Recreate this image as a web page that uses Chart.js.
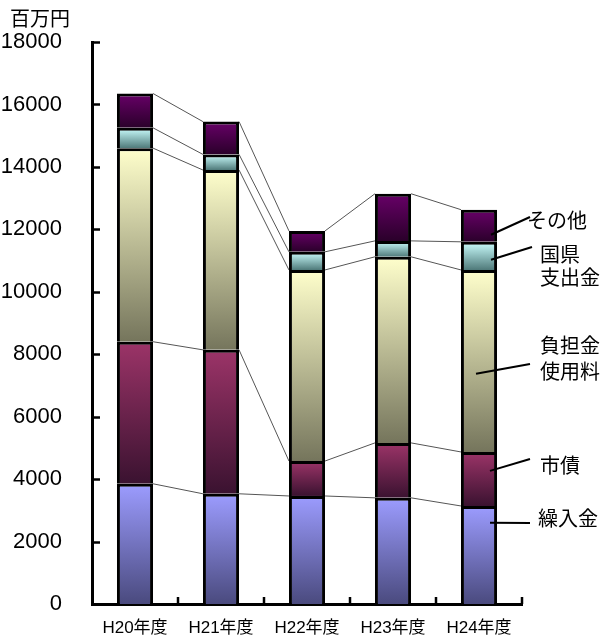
<!DOCTYPE html>
<html>
<head>
<meta charset="utf-8">
<script src="https://cdn.jsdelivr.net/npm/chart.js@4"></script>
<style>
  body { margin: 0; background: #fff; }
</style>
</head>
<body>
<canvas id="myChart" width="607" height="641"></canvas>
<script>
// - Data (百万円)

const nendo = ['H20年度', 'H21年度', 'H22年度', 'H23年度', 'H24年度']

const kurikomi = [3850, 3530, 3460, 3400, 3140]   // 繰入金
const shisai = [4550, 4610, 1120, 1760, 1730]     // 市債
const futankin = [6200, 5760, 6120, 5960, 5830]   // 負担金使用料
const kokken = [650, 500, 580, 510, 900]          // 国県支出金
const sonota = [1100, 1050, 670, 1510, 1030]      // その他

const yMax = 18000
const yStep = 2000

const FONT = "'Liberation Sans', 'Noto Sans CJK JP', sans-serif"
const JFONT = "'Noto Sans CJK JP', sans-serif"

// gradient per segment, light at top, dark at bottom
function grad(top, bottom) {
  return function (c) {
    const chart = c.chart
    const y = chart.scales.y
    if (!y || c.type !== 'data') return top
    const ds = chart.data.datasets
    let base = 0
    for (let i = 0; i < c.datasetIndex; i++) base += ds[i].data[c.dataIndex]
    const y0 = y.getPixelForValue(base + ds[c.datasetIndex].data[c.dataIndex])
    const y1 = y.getPixelForValue(base)
    if (!isFinite(y0) || !isFinite(y1) || y0 === y1) return top
    const g = chart.ctx.createLinearGradient(0, y0, 0, y1)
    g.addColorStop(0, top)
    g.addColorStop(1, bottom)
    return g
  }
}

function seg(label, data, top, bottom) {
  return {
    label: label,
    data: data,
    backgroundColor: grad(top, bottom),
    borderColor: '#000',
    borderWidth: { top: 3, left: 3, right: 3, bottom: 0 },
    borderSkipped: false
  }
}

const datasets = [
  seg('繰入金', kurikomi, '#9c9cff', '#4a4a7e'),
  seg('市債', shisai, '#9c3468', '#3a1230'),
  seg('負担金使用料', futankin, '#ffffcc', '#75755c'),
  seg('国県支出金', kokken, '#ccffff', '#4f7a7a'),
  seg('その他', sonota, '#680068', '#2a002a')
]

// labels on the right: text lines, series, where the leader starts in the H24 segment
const notes = [
  { lines: ['その他'], series: 4, frac: 0.78, dx: 12, tx: 527, ty: [220], ex: 530, ey: 217 },
  { lines: ['国県', '支出金'], series: 3, frac: 0.64, dx: 12, tx: 540, ty: [254, 277], ex: 532, ey: 247 },
  { lines: ['負担金', '使用料'], series: 2, frac: 0.57, dx: -3, tx: 540, ty: [345, 371], ex: 530, ey: 364 },
  { lines: ['市債'], series: 1, frac: 0.35, dx: 11, tx: 540, ty: [465], ex: 530, ey: 459 },
  { lines: ['繰入金'], series: 0, frac: 0.17, dx: 11, tx: 538, ty: [518], ex: 530, ey: 523 }
]

function cumulative(level, j) {
  let s = 0
  for (let i = 0; i <= level; i++) s += datasets[i].data[j]
  return s
}

const extras = {
  id: 'extras',
  beforeDatasetsDraw(chart) {
    const ctx = chart.ctx
    const y = chart.scales.y
    const bars = chart.getDatasetMeta(0).data
    ctx.save()
    ctx.strokeStyle = '#555'
    ctx.lineWidth = 1
    for (let L = 0; L < datasets.length; L++) {
      for (let j = 0; j < bars.length - 1; j++) {
        const a = bars[j], b = bars[j + 1]
        ctx.beginPath()
        ctx.moveTo(a.x + a.width / 2, y.getPixelForValue(cumulative(L, j)))
        ctx.lineTo(b.x - b.width / 2, y.getPixelForValue(cumulative(L, j + 1)))
        ctx.stroke()
      }
    }
    ctx.restore()
  },
  afterDraw(chart) {
    const ctx = chart.ctx
    const area = chart.chartArea
    const y = chart.scales.y
    ctx.save()
    ctx.strokeStyle = '#000'
    ctx.lineWidth = 2.5
    // y ticks pointing into the plot
    for (let v = 0; v <= yMax; v += yStep) {
      const py = Math.round(y.getPixelForValue(v)) + 0.5
      ctx.beginPath()
      ctx.moveTo(area.left, py)
      ctx.lineTo(area.left + 8, py)
      ctx.stroke()
    }
    // x ticks between categories
    const n = nendo.length
    const cw = (area.right - area.left) / n
    for (let k = 1; k <= n; k++) {
      const px = area.left + k * cw
      ctx.beginPath()
      ctx.moveTo(px, area.bottom)
      ctx.lineTo(px, area.bottom - 7)
      ctx.stroke()
    }
    // unit
    ctx.fillStyle = '#000'
    ctx.font = '20px ' + JFONT
    ctx.textBaseline = 'middle'
    ctx.textAlign = 'left'
    ctx.fillText('百万円', 10, 18)

    // right hand labels with leader lines
    const last = n - 1
    const bar = chart.getDatasetMeta(0).data[last]
    ctx.lineWidth = 2
    ctx.font = '20px ' + JFONT
    notes.forEach(function (nt) {
      const top = y.getPixelForValue(cumulative(nt.series, last))
      const bot = y.getPixelForValue(cumulative(nt.series, last) - datasets[nt.series].data[last])
      const sy = top + (bot - top) * nt.frac
      ctx.beginPath()
      ctx.moveTo(bar.x + nt.dx, sy)
      ctx.lineTo(nt.ex, nt.ey)
      ctx.stroke()
      nt.lines.forEach(function (t, i) {
        ctx.fillText(t, nt.tx, nt.ty[i])
      })
    })
    ctx.restore()
  }
}

const config = {
  type: 'bar',
  data: {
    labels: nendo,
    datasets: datasets
  },
  options: {
    responsive: false,
    animation: false,
    categoryPercentage: 0.42,
    barPercentage: 1,
    layout: {
      padding: { top: 42, right: 85, left: 0, bottom: 0 }
    },
    plugins: {
      legend: { display: false },
      tooltip: { enabled: false }
    },
    scales: {
      x: {
        stacked: true,
        grid: { display: false },
        border: { display: true, color: '#000', width: 3 },
        ticks: {
          color: '#000',
          padding: 6,
          font: { size: 17, family: FONT }
        },
        afterFit(scale) { scale.height = 37 }
      },
      y: {
        stacked: true,
        min: 0,
        max: yMax,
        grid: { display: false },
        border: { display: true, color: '#000', width: 3 },
        ticks: {
          stepSize: yStep,
          color: '#000',
          padding: 22,
          font: { size: 22, family: FONT },
          callback: function (v) { return String(v) }
        },
        afterFit(scale) { scale.width = 92 }
      }
    }
  },
  plugins: [extras]
}

const myChart = new Chart(
  document.getElementById('myChart'),
  config
)
</script>
</body>
</html>
